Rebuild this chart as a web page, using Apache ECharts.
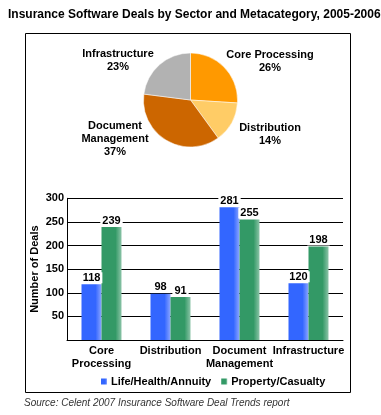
<!DOCTYPE html>
<html>
<head>
<meta charset="utf-8">
<script src="https://cdn.jsdelivr.net/npm/echarts@6/dist/echarts.min.js"></script>
<style>
html,body{margin:0;padding:0;background:#fff;}
#main{width:381px;height:415px;}
</style>
</head>
<body>
<div id="main"></div>
<script>
// Pie data (share of deals by metacategory, %)
var pieNames = ['Core Processing', 'Distribution', 'Document\nManagement', 'Infrastructure'];
var pieValues = [26, 14, 37, 23];

// Bar data
var categories = ['Core\nProcessing', 'Distribution', 'Document\nManagement', 'Infrastructure'];
var lifeHealthAnnuity = [118, 98, 281, 120];
var propertyCasualty = [239, 91, 255, 198];
var seriesNames = ['Life/Health/Annuity', 'Property/Casualty'];

// Styles / label positions (not data)
var pieColors = ['#FF9900', '#FFCC66', '#CC6600', '#B2B2B2'];
var pieLabelPos = [[270, 61], [270, 134], [115, 139], [118, 60]];
var FONT = 'Liberation Sans, Arial, sans-serif';

function barGrad(c, light) {
  return new echarts.graphic.LinearGradient(0, 0, 1, 0, [
    {offset: 0, color: c}, {offset: 0.7, color: c}, {offset: 1, color: light}
  ]);
}

var chart = echarts.init(document.getElementById('main'), null, {renderer: 'canvas'});
var labelStyle = {fontFamily: FONT, fontWeight: 'bold', fontSize: 11, color: '#000'};

var option = {
  animation: false,
  backgroundColor: '#fff',
  color: ['#3366FF', '#339966'],
  title: {
    text: 'Insurance Software Deals by Sector and Metacategory, 2005-2006',
    left: 8, top: 9, padding: 0,
    textStyle: {fontFamily: FONT, fontWeight: 'bold', fontSize: 12, color: '#000'}
  },
  graphic: [
    {type: 'rect', shape: {x: 25.5, y: 33.5, width: 325, height: 359}, style: {fill: 'none', stroke: '#000', lineWidth: 1}, z: -1},
    {type: 'text', left: 24, top: 398, style: {text: 'Source: Celent 2007 Insurance Software Deal Trends report', fontFamily: FONT, fontStyle: 'italic', fontSize: 10, fill: '#333'}}
  ],
  legend: {
    data: seriesNames,
    left: 96, top: 371,
    itemWidth: 6, itemHeight: 6, itemGap: 10,
    icon: 'rect',
    textStyle: {fontFamily: FONT, fontWeight: 'bold', fontSize: 11, color: '#000', padding: [0, 0, 0, -1]}
  },
  grid: {left: 67, right: 38, top: 198.3, bottom: 75},
  xAxis: {
    type: 'category',
    data: categories,
    axisLine: {show: true, lineStyle: {color: '#000'}},
    axisTick: {show: false},
    axisLabel: Object.assign({margin: 4, lineHeight: 13, interval: 0}, labelStyle)
  },
  yAxis: {
    type: 'value',
    min: 0, max: 300, interval: 50,
    name: 'Number of Deals',
    nameLocation: 'middle',
    nameGap: 27,
    nameRotate: 90,
    nameMoveOverlap: false,
    nameTextStyle: labelStyle,
    axisLine: {show: true, lineStyle: {color: '#000'}},
    axisTick: {show: false},
    splitLine: {lineStyle: {color: '#000', width: 1}},
    axisLabel: Object.assign({margin: 3, formatter: function (v) { return v === 0 ? '' : v; }}, labelStyle)
  },
  series: [
    {
      type: 'pie',
      center: [190.5, 100],
      radius: 47,
      startAngle: 90,
      clockwise: true,
      itemStyle: {borderColor: '#fff', borderWidth: 0.5},
      data: pieNames.map(function (n, i) { return {name: n, value: pieValues[i], itemStyle: {color: pieColors[i]}}; }),
      label: {
        show: true,
        formatter: function (p) { return p.name + '\n' + p.value + '%'; },
        fontFamily: FONT, fontWeight: 'bold', fontSize: 11, color: '#000', lineHeight: 13, align: 'center'
      },
      labelLine: {show: false},
      labelLayout: function (p) {
        var pos = pieLabelPos[p.dataIndex];
        return {x: pos[0], y: pos[1], align: 'center', verticalAlign: 'middle'};
      }
    },
    {
      type: 'bar',
      name: seriesNames[0],
      data: lifeHealthAnnuity,
      barWidth: 20, barGap: '0%',
      itemStyle: {color: barGrad('#3366FF', '#8CA6FF')},
      label: Object.assign({show: true, position: 'top', distance: 1, backgroundColor: '#fff', padding: [0, 2, 0, 2]}, labelStyle)
    },
    {
      type: 'bar',
      name: seriesNames[1],
      data: propertyCasualty,
      barWidth: 20, barGap: '0%',
      itemStyle: {color: barGrad('#339966', '#8CC4A8')},
      label: Object.assign({show: true, position: 'top', distance: 1, backgroundColor: '#fff', padding: [0, 2, 0, 2]}, labelStyle)
    }
  ]
};
chart.setOption(option);
</script>
</body>
</html>
